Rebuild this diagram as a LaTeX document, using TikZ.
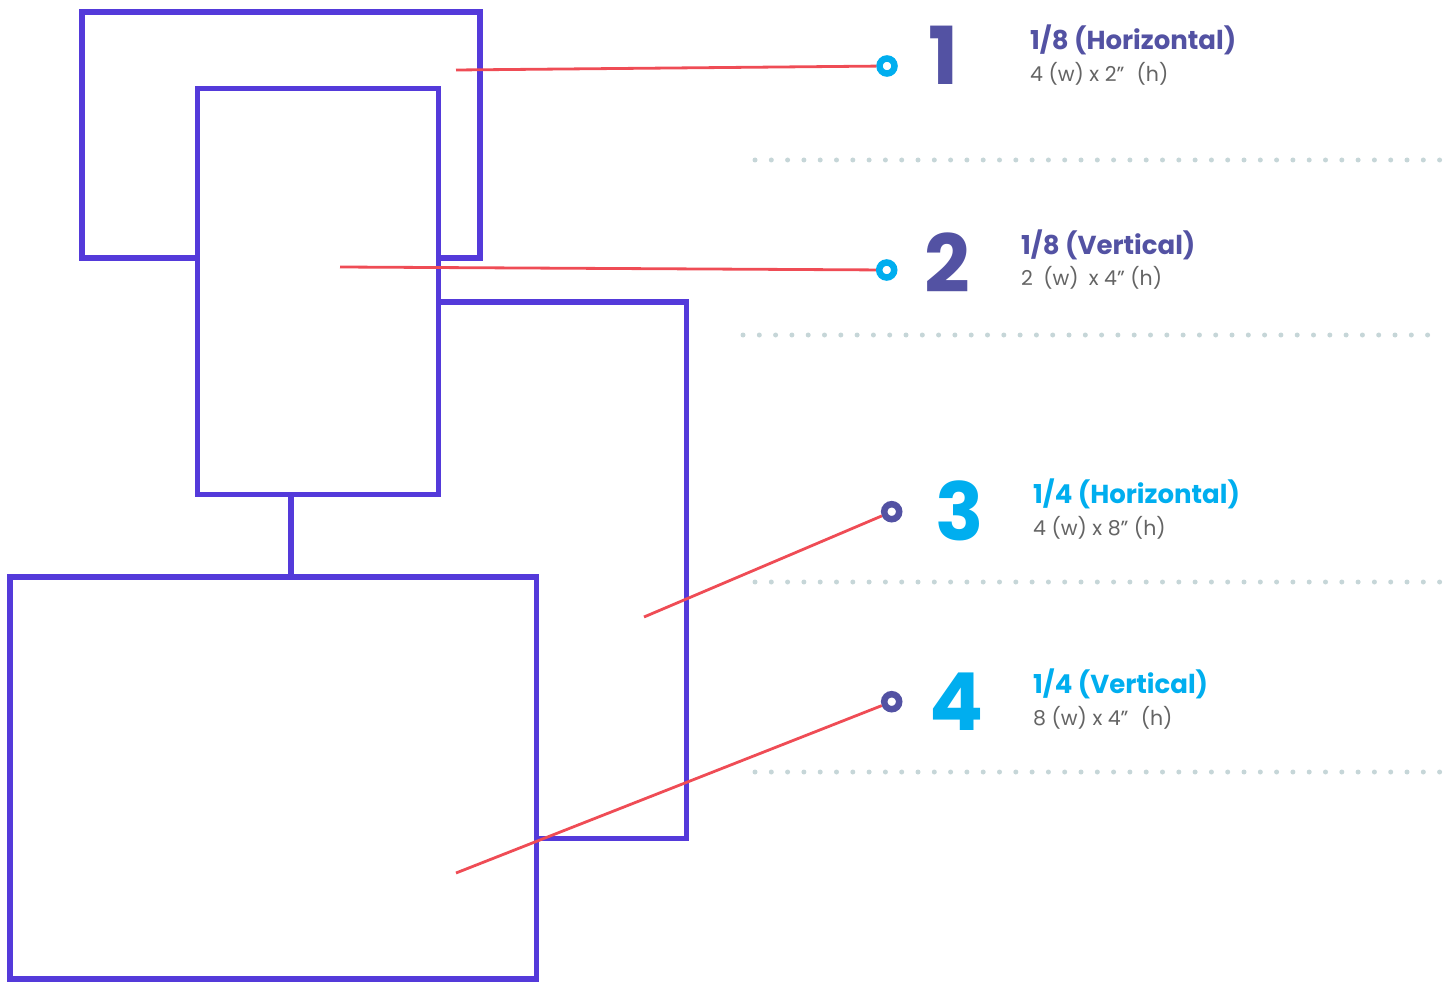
\documentclass[tikz,border=0pt]{standalone}
\usepackage{fontspec}
\setmainfont{Poppins}
\definecolor{rectc}{RGB}{84,58,218}
\definecolor{slate}{RGB}{83,82,163}
\definecolor{cyanc}{RGB}{0,174,239}
\definecolor{redc}{RGB}{239,76,85}
\definecolor{dotc}{RGB}{198,214,216}
\definecolor{greyt}{RGB}{100,100,100}
\tikzset{
  box/.style={draw=rectc, line width=5.4pt, fill=white, rectangle, inner sep=0pt, outer sep=0pt},
  ring/.style={circle, draw=#1, line width=6.5pt, fill=white, minimum size=15pt, inner sep=0pt},
  leader/.style={draw=redc, line width=2.8pt},
  dots/.style={draw=dotc, line width=5pt, line cap=round, dash pattern=on 0pt off 16.3pt},
  bignum/.style={anchor=base west, inner sep=0pt, font=\fontsize{80}{80}\selectfont\bfseries},
  title/.style={anchor=base west, inner sep=0pt, font=\fontsize{26}{26}\selectfont\bfseries},
  sub/.style={anchor=base west, inner sep=0pt, text=greyt, font=\fontsize{20.5}{20.5}\selectfont},
}
\begin{document}
\begin{tikzpicture}[x=1pt,y=-1pt]
\useasboundingbox (0,0) rectangle (1453,984);
% rectangles
\node[box, minimum width=398pt, minimum height=246pt] (r1) at (281,135) {};
\node[box, fill=none, minimum width=395.7pt, minimum height=536.7pt] (r3) at (488.85,570.35) {};
\node[box, minimum width=241pt, minimum height=406pt] (r2) at (318.2,291.75) {};
\node[box, minimum width=526.7pt, minimum height=402pt] (r4) at (273.35,778) {};
% dotted separators
\coordinate (da1) at (755,160); \coordinate (db1) at (1452,160);
\coordinate (da2) at (743,335); \coordinate (db2) at (1440,335);
\coordinate (da3) at (755,582); \coordinate (db3) at (1452,582);
\coordinate (da4) at (755,772); \coordinate (db4) at (1452,772);
\draw[dots] (da1) -- (db1);
\draw[dots] (da2) -- (db2);
\draw[dots] (da3) -- (db3);
\draw[dots] (da4) -- (db4);
% circles
\node[ring=cyanc] (c1) at (887,66) {};
\node[ring=cyanc] (c2) at (886.7,270) {};
\node[ring=slate] (c3) at (891.7,511.7) {};
\node[ring=slate] (c4) at (891.7,701.7) {};
% leader lines
\coordinate (s1) at (456,70);
\coordinate (s2) at (340,267);
\coordinate (s3) at (644,617);
\coordinate (s4) at (456,873);
\draw[leader] (s1) -- (c1);
\draw[leader] (s2) -- (c2);
\draw[leader] (s3) -- (c3);
\draw[leader] (s4) -- (c4);
% labels
\node[bignum, text=slate] (n1) at (928,85) {1};
\node[title, text=slate] (t1) at (1030,50) {1/8 (Horizontal)};
\node[sub] (d1) at (1030,82) {4 (w) x 2”\hspace{0.6em}(h)};
\node[bignum, text=slate] (n2) at (924,292) {2};
\node[title, text=slate] (t2) at (1021,255) {1/8 (Vertical)};
\node[sub] (d2) at (1021,286) {2\hspace{0.5em}(w)\hspace{0.5em}x 4” (h)};
\node[bignum, text=cyanc] (n3) at (935,540) {3};
\node[title, text=cyanc] (t3) at (1033,503) {1/4 (Horizontal)};
\node[sub] (d3) at (1033,535) {4 (w) x 8” (h)};
\node[bignum, text=cyanc] (n4) at (929,730) {4};
\node[title, text=cyanc] (t4) at (1033,693) {1/4 (Vertical)};
\node[sub] (d4) at (1033,725) {8 (w) x 4”\hspace{0.6em}(h)};
\end{tikzpicture}
\end{document}
